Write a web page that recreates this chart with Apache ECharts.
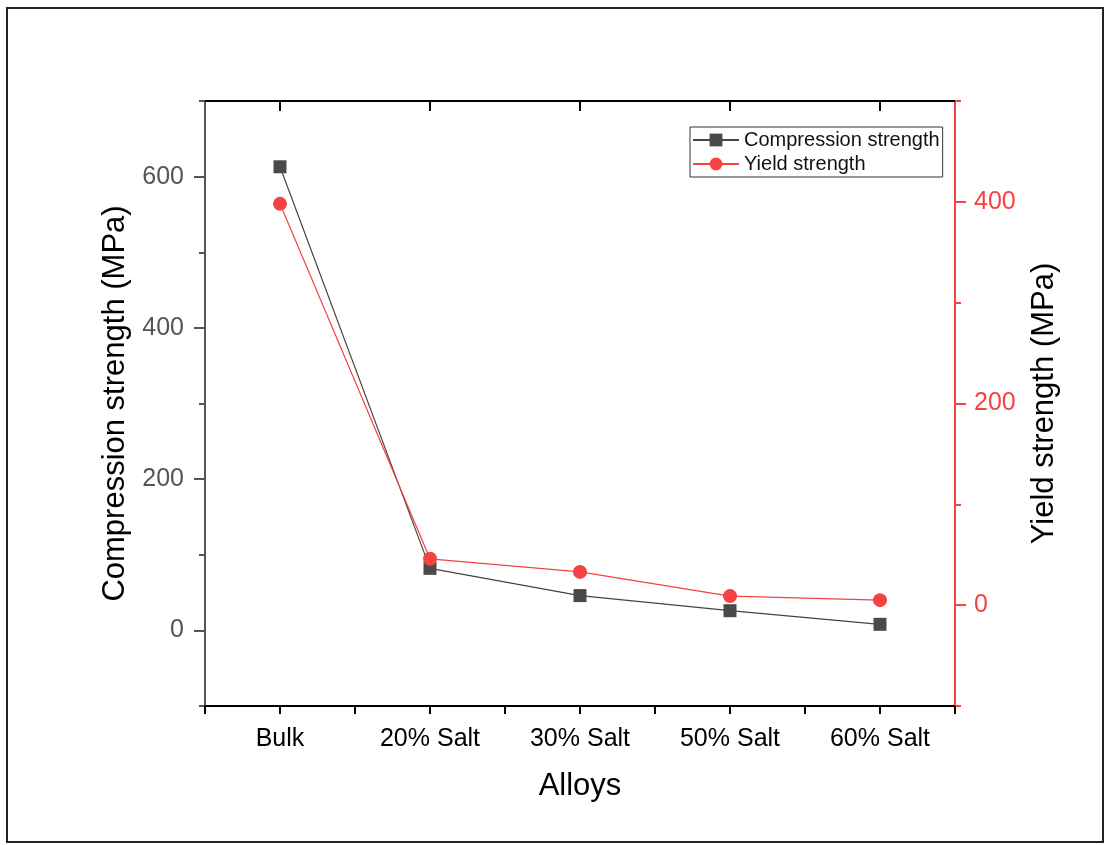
<!DOCTYPE html>
<html>
<head>
<meta charset="utf-8">
<script src="https://cdn.jsdelivr.net/npm/echarts@6/dist/echarts.min.js"></script>
<style>
html,body{margin:0;padding:0;background:#fff;}
#chart{width:1107px;height:845px;}
</style>
</head>
<body>
<div id="chart"></div>
<script>
const categories = ['Bulk', '20% Salt', '30% Salt', '50% Salt', '60% Salt'];
const compressionStrength = [613, 82, 46, 26, 8];
const yieldStrength = [398, 46, 33, 9, 5];
const leftMajorTicks = [0, 200, 400, 600];
const leftMinorTicks = [-100, 100, 300, 500, 700];
const rightMajorTicks = [0, 200, 400];
const rightMinorTicks = [-100, 100, 300, 500];

const FONT = 'Liberation Sans, Arial, sans-serif';
const RED = '#f54242';
const chart = echarts.init(document.getElementById('chart'), null, {renderer: 'canvas'});

const option = {
  backgroundColor: '#fff',
  animation: false,
  textStyle: {fontFamily: FONT},
  graphic: [{
    type: 'rect',
    shape: {x: 7, y: 8, width: 1096, height: 834},
    style: {fill: 'none', stroke: '#222', lineWidth: 2},
    silent: true
  }],
  grid: {left: 205, right: 152, top: 101, bottom: 139, containLabel: false},
  legend: {
    orient: 'vertical',
    left: 690,
    top: 127,
    padding: [3, 3, 3, 2],
    itemGap: 4,
    itemWidth: 46,
    itemHeight: 16,
    borderColor: '#333',
    borderWidth: 1,
    textStyle: {fontSize: 20, color: '#111', fontFamily: FONT},
    data: ['Compression strength', 'Yield strength']
  },
  xAxis: [
    {
      type: 'category',
      data: categories,
      position: 'bottom',
      boundaryGap: true,
      axisLine: {onZero: false, lineStyle: {color: '#000', width: 2}},
      axisTick: {show: true, inside: false, length: 8, lineStyle: {color: '#000', width: 2}},
      axisLabel: {fontSize: 25, color: '#000', margin: 21, fontFamily: FONT},
      name: 'Alloys',
      nameLocation: 'middle',
      nameGap: 65,
      nameTextStyle: {fontSize: 31, color: '#000', fontFamily: FONT},
      splitLine: {show: false}
    },
    {
      type: 'category',
      data: categories,
      position: 'bottom',
      boundaryGap: true,
      axisLine: {show: false, onZero: false},
      axisTick: {show: true, alignWithLabel: true, inside: false, length: 8, lineStyle: {color: '#000', width: 2}},
      axisLabel: {show: false},
      splitLine: {show: false}
    },
    {
      type: 'category',
      data: categories,
      position: 'top',
      boundaryGap: true,
      axisLine: {onZero: false, lineStyle: {color: '#000', width: 2}},
      axisTick: {show: true, alignWithLabel: true, inside: true, length: 10, lineStyle: {color: '#000', width: 2}},
      axisLabel: {show: false},
      splitLine: {show: false}
    }
  ],
  yAxis: [
    {
      type: 'value',
      position: 'left',
      min: -100,
      max: 700,
      axisLine: {show: true, onZero: false, lineStyle: {color: '#555', width: 2}},
      axisTick: {show: true, inside: false, length: 11, customValues: leftMajorTicks, lineStyle: {color: '#555', width: 2}},
      axisLabel: {fontSize: 25, color: '#555', margin: 21, customValues: leftMajorTicks, fontFamily: FONT},
      splitLine: {show: false},
      name: 'Compression strength (MPa)',
      nameLocation: 'middle',
      nameGap: 72,
      nameTextStyle: {fontSize: 31, color: '#000', fontFamily: FONT}
    },
    {
      type: 'value',
      position: 'left',
      min: -100,
      max: 700,
      axisLine: {show: false, onZero: false},
      axisTick: {show: true, inside: false, length: 6, customValues: leftMinorTicks, lineStyle: {color: '#555', width: 2}},
      axisLabel: {show: false},
      splitLine: {show: false}
    },
    {
      type: 'value',
      position: 'right',
      min: -100,
      max: 500,
      axisLine: {show: true, onZero: false, lineStyle: {color: RED, width: 2}},
      axisTick: {show: true, inside: false, length: 11, customValues: rightMajorTicks, lineStyle: {color: RED, width: 2}},
      axisLabel: {fontSize: 25, color: RED, margin: 19, customValues: rightMajorTicks, fontFamily: FONT},
      splitLine: {show: false},
      name: 'Yield strength (MPa)',
      nameLocation: 'middle',
      nameGap: 74,
      nameRotate: 90,
      nameTextStyle: {fontSize: 31, color: '#000', fontFamily: FONT}
    },
    {
      type: 'value',
      position: 'right',
      min: -100,
      max: 500,
      axisLine: {show: false, onZero: false},
      axisTick: {show: true, inside: false, length: 6, customValues: rightMinorTicks, lineStyle: {color: RED, width: 2}},
      axisLabel: {show: false},
      splitLine: {show: false}
    }
  ],
  series: [
    {
      name: 'Compression strength',
      type: 'line',
      xAxisIndex: 0,
      yAxisIndex: 0,
      data: compressionStrength,
      symbol: 'rect',
      symbolSize: 13,
      itemStyle: {color: '#4a4a4a'},
      lineStyle: {color: '#444', width: 1.2}
    },
    {
      name: 'Yield strength',
      type: 'line',
      xAxisIndex: 0,
      yAxisIndex: 2,
      data: yieldStrength,
      symbol: 'circle',
      symbolSize: 14,
      itemStyle: {color: RED},
      lineStyle: {color: RED, width: 1.2}
    }
  ]
};
chart.setOption(option);
</script>
</body>
</html>
